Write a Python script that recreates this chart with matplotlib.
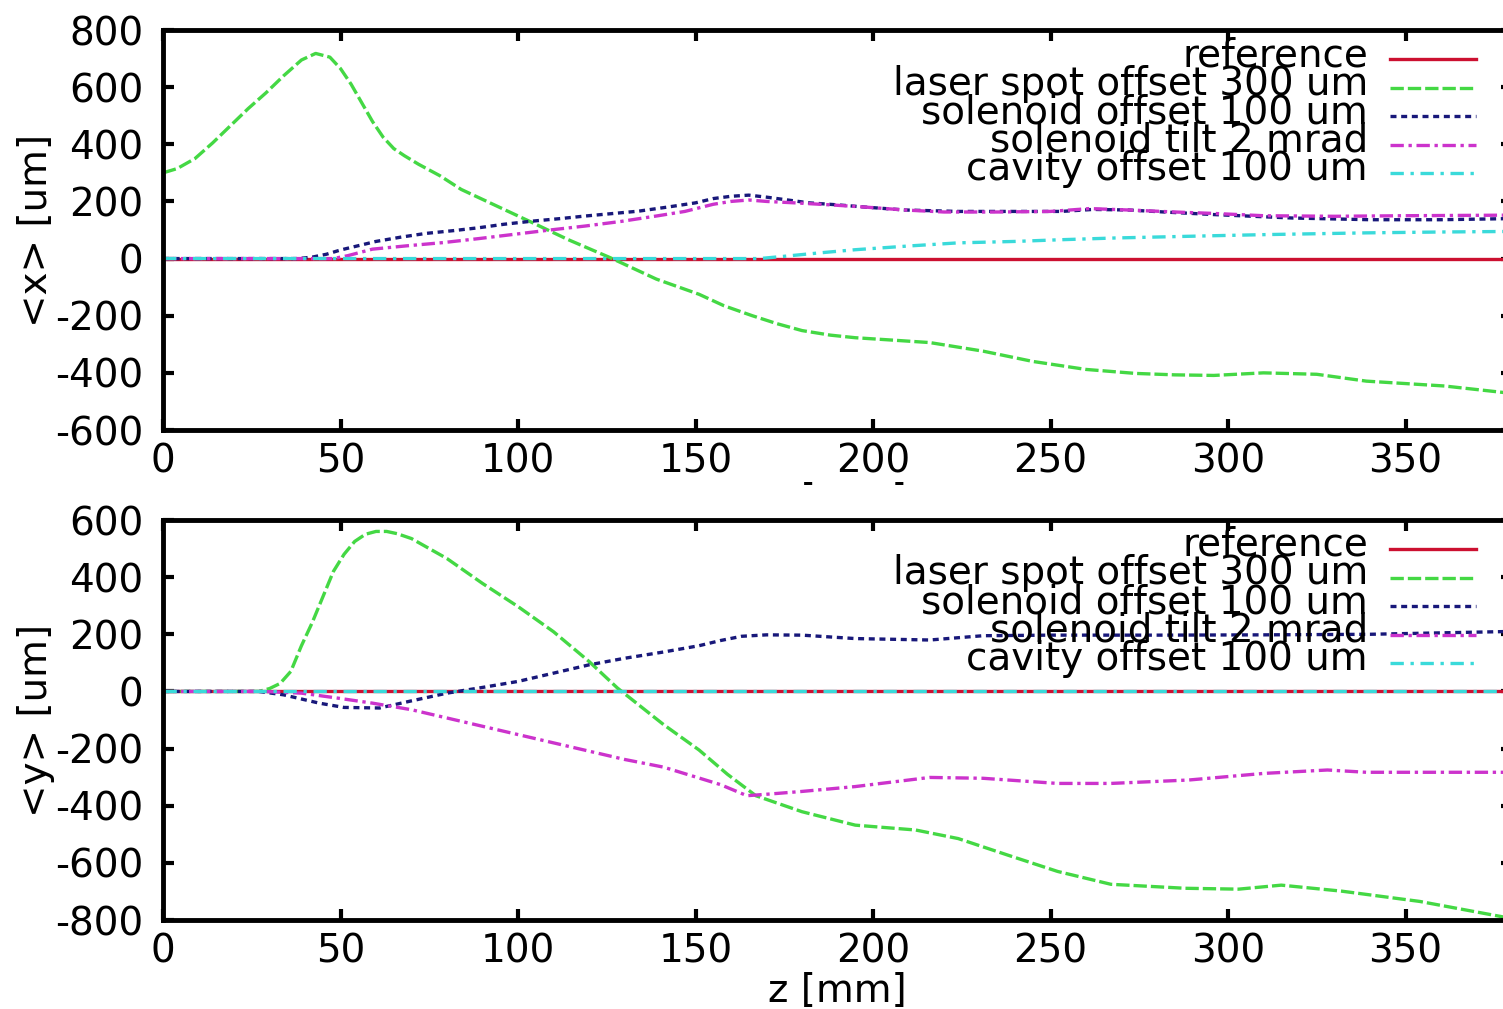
import matplotlib
matplotlib.use("Agg")
import matplotlib.pyplot as plt
from matplotlib.patches import Rectangle

plt.rcParams['font.family'] = ['DejaVu Sans']
plt.rcParams['axes.unicode_minus'] = False

# ---------------- data ----------------
labels = ["reference", "laser spot offset 300 um", "solenoid offset 100 um",
          "solenoid tilt 2 mrad", "cavity offset 100 um"]

xticks = [0, 50, 100, 150, 200, 250, 300, 350]
top_yticks = [-600, -400, -200, 0, 200, 400, 600, 800]
bot_yticks = [-800, -600, -400, -200, 0, 200, 400, 600]

# top panel <x>
ref_z = [0, 380]
ref_v = [0, 0]

tx_laser_z = [0, 4, 9, 14, 19, 24, 29, 34, 39, 43, 47, 50, 53, 56, 59, 62, 65, 68, 72, 78,
              84, 94, 104, 114, 126, 139, 151, 158, 166, 173, 180, 188, 195, 205, 216, 231,
              245, 260, 274, 285, 296, 310, 325, 339, 361, 380]
tx_laser_v = [300, 315, 350, 405, 465, 525, 580, 640, 695, 718, 705, 665, 610, 545, 480, 425,
              385, 360, 330, 290, 242, 184, 126, 67, 3, -72, -125, -165, -200, -228, -252, -268,
              -277, -285, -294, -324, -360, -388, -402, -407, -409, -400, -405, -429, -446, -472]

tx_soloff_z = [0, 38, 42, 46, 50, 55, 60, 67, 74, 82, 89, 96, 104, 112, 119, 127, 134, 142,
               150, 155, 160, 165, 170, 176, 182, 190, 198, 209, 224, 240, 253, 262, 272, 282,
               296, 318, 340, 360, 380]
tx_soloff_v = [0, 0, 5, 15, 30, 45, 60, 75, 88, 98, 108, 120, 131, 140, 149, 158, 166, 180,
               195, 210, 218, 222, 215, 205, 195, 188, 180, 170, 165, 165, 165, 172, 170, 163,
               154, 142, 136, 136, 140]

tx_tilt_z = [0, 48, 52, 59, 69, 79, 89, 99, 109, 119, 129, 139, 147, 155, 160, 165, 170, 178,
             188, 198, 209, 220, 235, 250, 261, 272, 285, 296, 310, 330, 350, 380]
tx_tilt_v = [0, 0, 10, 33, 45, 56, 70, 85, 100, 114, 130, 149, 165, 190, 200, 205, 200, 195,
             188, 180, 170, 163, 163, 165, 175, 170, 163, 158, 150, 148, 150, 152]

tx_cav_z = [0, 168, 175, 185, 195, 210, 224, 240, 253, 268, 282, 296, 311, 325, 339, 360, 380]
tx_cav_v = [0, 0, 8, 20, 31, 44, 55, 60, 66, 72, 76, 80, 84, 87, 90, 93, 95]

# bottom panel <y>
ty_laser_z = [0, 27, 30, 33, 36, 39, 42, 45, 48, 51, 54, 57, 60, 63, 66, 70, 80, 90, 100, 110,
              120, 128, 141, 151, 159, 167, 180, 195, 212, 224, 238, 252, 267, 288, 303, 315,
              332, 354, 380]
ty_laser_v = [0, 0, 10, 28, 70, 160, 240, 330, 420, 480, 525, 550, 560, 560, 552, 535, 465,
              378, 297, 209, 105, 12, -116, -205, -290, -365, -421, -468, -485, -515, -573,
              -630, -675, -689, -692, -678, -699, -735, -795]

ty_soloff_z = [0, 27, 34, 44, 51, 61, 70, 80, 90, 100, 110, 120, 130, 141, 151, 157, 163, 170,
               180, 195, 216, 231, 250, 280, 310, 340, 360, 380]
ty_soloff_v = [0, 0, -12, -41, -56, -58, -33, -6, 14, 35, 64, 93, 116, 138, 160, 178, 193, 198,
               197, 185, 180, 195, 197, 197, 198, 200, 205, 210]

ty_tilt_z = [0, 28, 39, 49, 59, 70, 80, 90, 100, 110, 120, 130, 141, 151.5, 157, 164.5, 172,
             180, 195, 216, 231, 252, 267, 289, 310, 328, 339, 380]
ty_tilt_v = [0, 0, -6, -23, -41, -64, -93, -122, -151, -180, -209, -238, -265, -305, -326,
             -365, -358, -350, -333, -301, -304, -322, -322, -310, -287, -275, -283, -283]

ty_cav_z = [0, 380]
ty_cav_v = [0, 0]

# ---------------- styles ----------------
colors = ['#cc1030', '#44d844', '#18187a', '#cc33cc', '#3adada']
styles = ['-', (0, (4, 1.2)), (0, (1.8, 1.4)), (0, (4, 1.4, 1, 1.4)), (0, (4, 2, 1, 2))]
lw = 2.4
FS = 28

W, H = 1503, 1009
fig = plt.figure(figsize=(W / 100, H / 100), dpi=100)

left_px, right_px = 163, 1512


def make_axes(top_px, bot_px, zorder):
    ax = fig.add_axes([left_px / W, 1 - bot_px / H, (right_px - left_px) / W,
                       (bot_px - top_px) / H], zorder=zorder)
    ax.set_facecolor('white')
    return ax


ax1 = make_axes(30, 430, 0)
ax2 = make_axes(520, 920, 2)
# white canvas of the lower plot (hides most of the upper x label)
fig.add_artist(Rectangle((0, 0), 1, 1 - 485 / H, transform=fig.transFigure,
                         facecolor='white', edgecolor='none', zorder=1))

panels = [
    (ax1, [(ref_z, ref_v), (tx_laser_z, tx_laser_v), (tx_soloff_z, tx_soloff_v),
           (tx_tilt_z, tx_tilt_v), (tx_cav_z, tx_cav_v)], (-600, 800), top_yticks, "<x> [um]"),
    (ax2, [(ref_z, ref_v), (ty_laser_z, ty_laser_v), (ty_soloff_z, ty_soloff_v),
           (ty_tilt_z, ty_tilt_v), (ty_cav_z, ty_cav_v)], (-800, 600), bot_yticks, "<y> [um]"),
]

for ax, series, ylim, yt, ylab in panels:
    for (z, v), c, ls in zip(series, colors, styles):
        ax.plot(z, v, color=c, linestyle=ls, linewidth=lw)
    ax.set_xlim(0, 380)
    ax.set_ylim(*ylim)
    ax.set_xticks(xticks)
    ax.set_yticks(yt)
    ax.tick_params(direction='in', length=8, width=3, top=True, right=True,
                   labelsize=FS, colors='black')
    ax.tick_params(axis='y', pad=14)
    ax.tick_params(axis='x', pad=9)
    for s in ax.spines.values():
        s.set_linewidth(3.5)
    ax.set_xlabel("z [mm]", fontsize=FS, labelpad=1)
    ax.set_ylabel(ylab, fontsize=FS)
    ax.yaxis.set_label_coords((55 - left_px) / (right_px - left_px), 0.5)

    # gnuplot-style key (text right-aligned, sample to the right)
    span = right_px - left_px
    tx = (1368 - left_px) / span
    l0 = (1390 - left_px) / span
    l1 = (1476 - left_px) / span
    for i, (lab, c, ls) in enumerate(zip(labels, colors, styles)):
        base_px = 36 + 28.5 * i        # baseline offset below axes top
        yb = 1 - base_px / 400
        ys = 1 - (base_px - 7) / 400
        ax.text(tx, yb, lab, transform=ax.transAxes, ha='right', va='baseline',
                fontsize=FS, zorder=5)
        ax.plot([l0, l1], [ys, ys], transform=ax.transAxes, color=c, linestyle=ls,
                linewidth=lw, clip_on=False, zorder=5)

fig.savefig("out.png", dpi=100)
